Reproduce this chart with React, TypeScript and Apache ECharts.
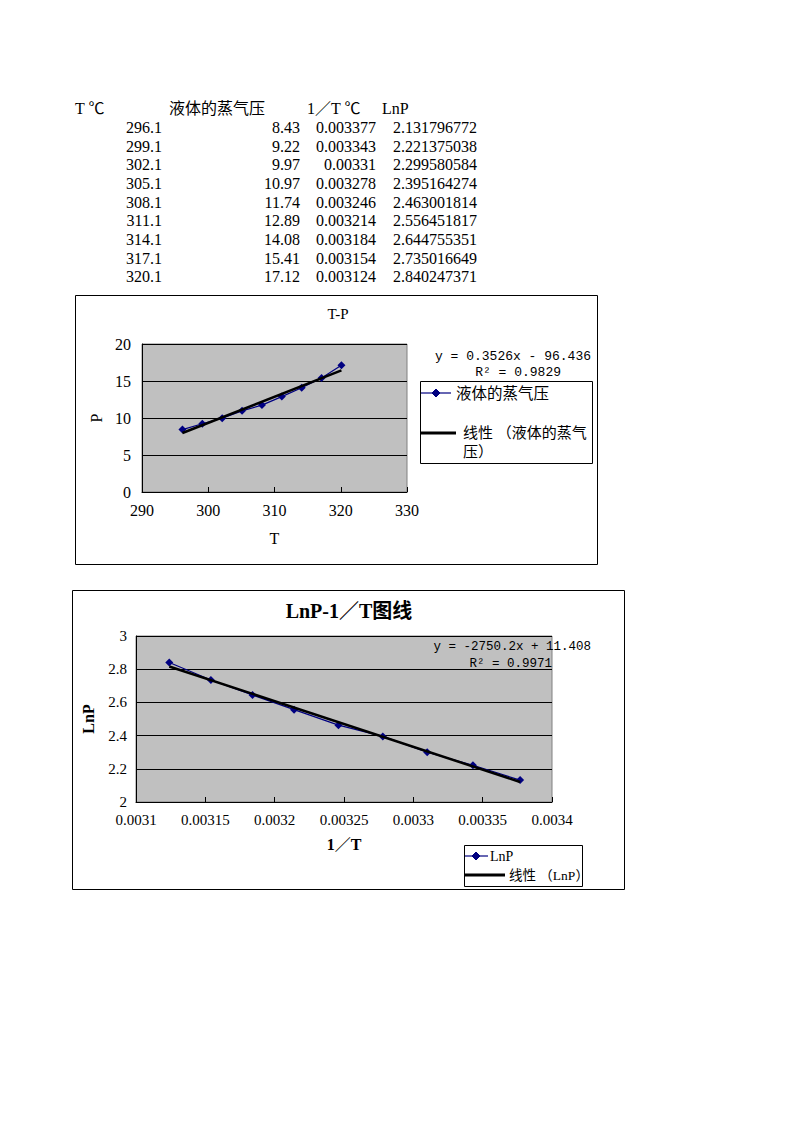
import React, { useEffect, useRef } from "react";
import * as echarts from "echarts";

// ---- data ----
const tableHeaders = ["T ℃", "液体的蒸气压", "1／T ℃", "LnP"];
const tempC = ["296.1", "299.1", "302.1", "305.1", "308.1", "311.1", "314.1", "317.1", "320.1"];
const pressure = ["8.43", "9.22", "9.97", "10.97", "11.74", "12.89", "14.08", "15.41", "17.12"];
const invT = ["0.003377", "0.003343", "0.00331", "0.003278", "0.003246", "0.003214", "0.003184", "0.003154", "0.003124"];
const lnP = ["2.131796772", "2.221375038", "2.299580584", "2.395164274", "2.463001814", "2.556451817", "2.644755351", "2.735016649", "2.840247371"];

// trend line equations shown on the charts
const tp = { slope: 0.3526, intercept: -96.436, eq: "y = 0.3526x - 96.436", r2: "R² = 0.9829" };
const ln = { slope: -2750.2, intercept: 11.408, eq: "y = -2750.2x + 11.408", r2: "R² = 0.9971" };

const chart1Title = "T-P";
const chart2Title = "LnP-1／T图线";
const series1Name = "液体的蒸气压";
const series1Trend = "线性 （液体的蒸气压）";
const series2Name = "LnP";
const series2Trend = "线性 （LnP）";

const FONT = '"Liberation Serif", "Noto Sans CJK SC", serif';
const MONO = '"Liberation Mono", "Noto Sans CJK SC", monospace';
const NAVY = "#000080";

function txt(text: string, x: number, y: number, size: number, align = "left", bold = false, family = FONT) {
  return {
    type: "text",
    style: {
      text,
      x,
      y,
      fill: "#000",
      font: `${bold ? "bold " : ""}${size}px ${family}`,
      textAlign: align,
      textVerticalAlign: "middle",
    },
  };
}

function diamond(cx: number, cy: number, r: number) {
  return {
    type: "polygon",
    shape: { points: [[cx, cy - r], [cx + r, cy], [cx, cy + r], [cx - r, cy]] },
    style: { fill: NAVY, stroke: NAVY },
  };
}

function hline(x1: number, x2: number, y: number, color: string, w: number) {
  return { type: "line", shape: { x1, y1: y, x2, y2: y }, style: { stroke: color, lineWidth: w } };
}

export default function App() {
  const ref = useRef<HTMLDivElement>(null);

  useEffect(() => {
    if (!ref.current) return;
    const chart = echarts.init(ref.current, null, { renderer: "svg" });

    const tpData = tempC.map((t, i) => [Number(t), Number(pressure[i])]);
    const lnData = invT.map((x, i) => [Number(x), Number(lnP[i])]);
    const t0 = Number(tempC[0]);
    const t1 = Number(tempC[tempC.length - 1]);
    const tpTrend = [t0, t1].map((x) => [x, tp.slope * x + tp.intercept]);
    const xs = invT.map(Number);
    const x0 = Math.min(...xs);
    const x1 = Math.max(...xs);
    const lnTrend = [x0, x1].map((x) => [x, ln.slope * x + ln.intercept]);

    // table
    const table: any[] = [];
    table.push(txt(tableHeaders[0], 75, 108, 16));
    table.push(txt(tableHeaders[1], 169, 108, 16));
    table.push(txt(tableHeaders[2], 307, 108, 16));
    table.push(txt(tableHeaders[3], 382, 108, 16));
    tempC.forEach((_, i) => {
      const y = 127.3 + i * 18.7;
      table.push(txt(tempC[i], 162, y, 16, "right"));
      table.push(txt(pressure[i], 300, y, 16, "right"));
      table.push(txt(invT[i], 376, y, 16, "right"));
      table.push(txt(lnP[i], 477, y, 16, "right"));
    });

    const axisText = { color: "#000", fontFamily: FONT };

    chart.setOption({
      animation: false,
      grid: [
        { left: 142, top: 344, width: 265, height: 148, show: true, backgroundColor: "#C0C0C0", borderColor: "#808080", borderWidth: 1 },
        { left: 136, top: 636, width: 416, height: 166, show: true, backgroundColor: "#C0C0C0", borderColor: "#808080", borderWidth: 1 },
      ],
      xAxis: [
        {
          gridIndex: 0, type: "value", min: 290, max: 330, interval: 10,
          name: "T", nameLocation: "middle", nameGap: 38,
          nameTextStyle: { ...axisText, fontSize: 16 },
          axisLine: { show: true, lineStyle: { color: "#000" } },
          axisTick: { show: true, inside: true, length: 5, lineStyle: { color: "#000" } },
          axisLabel: { ...axisText, fontSize: 16, margin: 10 },
          splitLine: { show: false },
        },
        {
          gridIndex: 1, type: "value", min: 0.0031, max: 0.0034, interval: 0.00005,
          name: "1／T", nameLocation: "middle", nameGap: 34,
          nameTextStyle: { ...axisText, fontSize: 16, fontWeight: "bold" },
          axisLine: { show: true, lineStyle: { color: "#000" } },
          axisTick: { show: true, inside: true, length: 5, lineStyle: { color: "#000" } },
          axisLabel: { ...axisText, fontSize: 15, margin: 10, formatter: (v: number) => String(Number(v.toPrecision(6))) },
          splitLine: { show: false },
        },
      ],
      yAxis: [
        {
          gridIndex: 0, type: "value", min: 0, max: 20, interval: 5,
          name: "P", nameLocation: "middle", nameGap: 38, nameRotate: 90,
          nameTextStyle: { ...axisText, fontSize: 16 },
          axisLine: { show: true, lineStyle: { color: "#000" } },
          axisTick: { show: false },
          axisLabel: { ...axisText, fontSize: 16, margin: 11 },
          splitLine: { show: true, lineStyle: { color: "#000", width: 1 } },
        },
        {
          gridIndex: 1, type: "value", min: 2, max: 3, interval: 0.2,
          name: "LnP", nameLocation: "middle", nameGap: 40, nameRotate: 90,
          nameTextStyle: { ...axisText, fontSize: 16, fontWeight: "bold" },
          axisLine: { show: true, lineStyle: { color: "#000" } },
          axisTick: { show: false },
          axisLabel: { ...axisText, fontSize: 15, margin: 9 },
          splitLine: { show: true, lineStyle: { color: "#000", width: 1 } },
        },
      ],
      series: [
        {
          name: series1Name, type: "line", xAxisIndex: 0, yAxisIndex: 0, data: tpData,
          symbol: "diamond", symbolSize: 8, itemStyle: { color: NAVY },
          lineStyle: { color: NAVY, width: 1.2 }, z: 2,
        },
        {
          name: series1Trend, type: "line", xAxisIndex: 0, yAxisIndex: 0, data: tpTrend,
          symbol: "none", lineStyle: { color: "#000", width: 2.5 }, z: 3,
        },
        {
          name: series2Name, type: "line", xAxisIndex: 1, yAxisIndex: 1, data: lnData,
          symbol: "diamond", symbolSize: 8, itemStyle: { color: NAVY },
          lineStyle: { color: NAVY, width: 1.2 }, z: 2,
        },
        {
          name: series2Trend, type: "line", xAxisIndex: 1, yAxisIndex: 1, data: lnTrend,
          symbol: "none", lineStyle: { color: "#000", width: 2.5 }, z: 3,
        },
      ],
      graphic: [
        ...table,
        // chart borders
        { type: "rect", shape: { x: 75.5, y: 295.5, width: 522, height: 269 }, style: { fill: "none", stroke: "#000", lineWidth: 1 }, z: -1 },
        { type: "rect", shape: { x: 72.5, y: 590.5, width: 552, height: 299 }, style: { fill: "none", stroke: "#000", lineWidth: 1 }, z: -1 },
        // titles
        txt(chart1Title, 338, 314, 15, "center"),
        txt(chart2Title, 349, 611, 20, "center", true),
        // trend equations
        { ...txt(tp.eq, 591, 356, 13, "right", false, MONO), z: 10 },
        { ...txt(tp.r2, 561, 372, 13, "right", false, MONO), z: 10 },
        { ...txt(ln.eq, 591, 647, 12.5, "right", false, MONO), z: 10 },
        { ...txt(ln.r2, 552, 664, 12.5, "right", false, MONO), z: 10 },
        // legend 1
        { type: "rect", shape: { x: 420.5, y: 381.5, width: 172, height: 82 }, style: { fill: "#fff", stroke: "#000", lineWidth: 1 }, z: 5 },
        { ...hline(421, 451, 393, NAVY, 1.2), z: 6 },
        { ...diamond(436, 393, 4), z: 6 },
        { ...txt(series1Name, 456, 393, 15.5), z: 6 },
        { ...hline(421, 456, 433, "#000", 3), z: 6 },
        { ...txt("线性 （液体的蒸气", 463, 433, 15), z: 6 },
        { ...txt("压）", 463, 452, 15), z: 6 },
        // legend 2
        { type: "rect", shape: { x: 464.5, y: 845.5, width: 118, height: 41 }, style: { fill: "#fff", stroke: "#000", lineWidth: 1 }, z: 5 },
        { ...hline(465, 488, 856, NAVY, 1.2), z: 6 },
        { ...diamond(476, 856, 4), z: 6 },
        { ...txt(series2Name, 490, 856, 14), z: 6 },
        { ...hline(465, 505, 875, "#000", 3), z: 6 },
        { ...txt(series2Trend, 509, 875, 13.5), z: 6 },
      ],
    });

    return () => chart.dispose();
  }, []);

  return (
    <div
      ref={ref}
      style={{ position: "absolute", left: 0, top: 0, width: 793, height: 1122, background: "#fff" }}
    />
  );
}
